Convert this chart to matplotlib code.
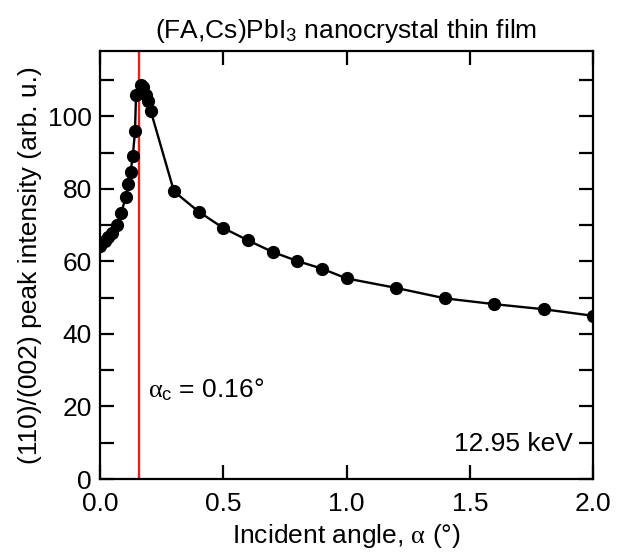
import matplotlib
matplotlib.use("Agg")
import matplotlib.pyplot as plt
from matplotlib.ticker import MultipleLocator

plt.rcParams["font.family"] = ["Liberation Sans", "DejaVu Sans"]
plt.rcParams["mathtext.fontset"] = "custom"
plt.rcParams["mathtext.rm"] = "Liberation Sans"
plt.rcParams["mathtext.it"] = "Liberation Serif"
plt.rcParams["mathtext.bf"] = "Liberation Sans:bold"

# incident angle (deg) and integrated (110)/(002) peak intensity
angle = [0.0, 0.02, 0.034, 0.047, 0.068, 0.085, 0.105, 0.115, 0.124, 0.133,
         0.142, 0.146, 0.165, 0.176, 0.187, 0.196, 0.206,
         0.3, 0.4, 0.5, 0.6, 0.7, 0.8, 0.9, 1.0, 1.2, 1.4, 1.6, 1.8, 2.0]
intensity = [64.2, 65.6, 66.8, 67.9, 70.0, 73.2, 77.8, 81.3, 84.7, 89.1,
             95.9, 106.0, 108.7, 108.0, 105.8, 104.1, 101.4,
             79.3, 73.7, 69.2, 65.8, 62.6, 60.1, 58.0, 55.3, 52.7, 49.8,
             48.2, 46.8, 45.0]
critical_angle = 0.16
energy_label = "12.95 keV"

fs = 19

fig = plt.figure(figsize=(6.19, 5.59), dpi=100)
ax = fig.add_axes([0.1616, 0.1431, 0.7964, 0.7657])

ax.plot(angle, intensity, color="black", lw=1.7, marker="o", ms=8.5, zorder=3)
ax.axvline(critical_angle, color="#e8201c", lw=1.7, zorder=2)

ax.set_xlim(0, 2.0)
ax.set_ylim(0, 118)
ax.xaxis.set_major_locator(MultipleLocator(0.5))
ax.yaxis.set_major_locator(MultipleLocator(20))
ax.yaxis.set_minor_locator(MultipleLocator(10))
ax.xaxis.set_major_formatter(plt.FormatStrFormatter("%.1f"))

ax.tick_params(which="both", direction="in", top=True, right=True,
               length=10, width=1.6, labelsize=fs)
ax.tick_params(axis="x", pad=9)
ax.tick_params(axis="y", pad=6)
for side in ax.spines.values():
    side.set_linewidth(1.6)

ax.text(critical_angle + 0.035, 24.5, r"$\alpha_\mathrm{c}$ = 0.16°",
        fontsize=fs, va="center", ha="left")
ax.text(0.96, 0.082, energy_label, transform=ax.transAxes,
        fontsize=fs, va="center", ha="right")

ax.set_xlabel(r"Incident angle, $\alpha$ (°)", fontsize=fs, labelpad=5)
ax.set_ylabel("(110)/(002) peak intensity (arb. u.)", fontsize=fs, labelpad=4)
ax.set_title(r"(FA,Cs)PbI$_3$ nanocrystal thin film", fontsize=fs, pad=9)

fig.savefig("out.png", dpi=100)
